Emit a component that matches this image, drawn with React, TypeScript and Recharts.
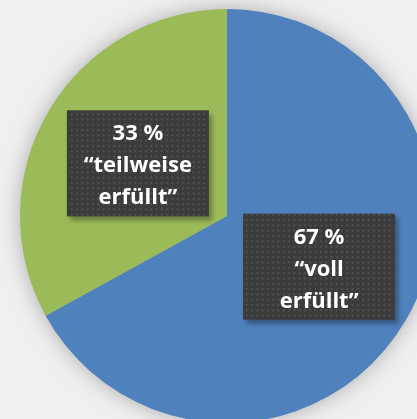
import React from 'react';
import { PieChart, Pie, Cell } from 'recharts';

// values
const categories = ['voll erfüllt', 'teilweise erfüllt'];
const values = [67, 33];
const colors = ['#4f81bd', '#9bbb59'];

const chartData = categories.map((name, i) => ({ name, value: values[i] }));

const RADIAN = Math.PI / 180;
const BOX_W = [152, 142];
const BOX_H = 106;
// small nudges so the boxes sit where they do in the slide
const BOX_DX = [3, 0];
const BOX_DY = [-2, 0];

const BoxLabel = (props: any) => {
  const { cx, cy, midAngle, outerRadius, index, value, name } = props;
  const r = outerRadius * 0.5;
  const x = cx + r * Math.cos(-midAngle * RADIAN) + (BOX_DX[index] ?? 0);
  const y = cy + r * Math.sin(-midAngle * RADIAN) + (BOX_DY[index] ?? 0);
  const w = BOX_W[index] ?? 146;
  const words = String(name).split(' ');
  const lines = [`${value} %`, `\u201c${words[0]}`, `${words.slice(1).join(' ')}\u201d`];
  return (
    <g>
      <rect x={x - w / 2 + 3} y={y - BOX_H / 2 + 4} width={w} height={BOX_H} fill="rgba(0,0,0,0.35)" filter="url(#boxBlur)" />
      <rect x={x - w / 2} y={y - BOX_H / 2} width={w} height={BOX_H} fill="#3b3b3b" />
      <rect x={x - w / 2} y={y - BOX_H / 2} width={w} height={BOX_H} fill="url(#dots)" />
      {lines.map((t, i) => (
        <text
          key={i}
          x={x}
          y={y + (i - 1) * 32}
          textAnchor="middle"
          dominantBaseline="central"
          fill="#ffffff"
          fontFamily="'Open Sans', sans-serif"
          fontWeight="bold"
          fontSize={22}
        >
          {t}
        </text>
      ))}
    </g>
  );
};

const App: React.FC = () => {
  return (
    <div style={{ position: 'fixed', left: 0, top: 0, width: 417, height: 419, background: '#efefef', overflow: 'hidden' }}>
      <div style={{ filter: 'drop-shadow(0 0 10px rgba(0,0,0,0.28))' }}>
        <PieChart width={417} height={419} margin={{ top: 0, right: 0, bottom: 0, left: 0 }}>
          <defs>
            <pattern id="dots" x="0" y="0" width="5.3" height="5.3" patternUnits="userSpaceOnUse">
              <rect x="2" y="2" width="1.7" height="1.7" fill="#565656" />
            </pattern>
            <filter id="boxBlur" x="-20%" y="-20%" width="140%" height="140%">
              <feGaussianBlur stdDeviation="2.5" />
            </filter>
          </defs>
          <Pie
            data={chartData}
            dataKey="value"
            nameKey="name"
            cx={227}
            cy={216}
            outerRadius={207}
            startAngle={90}
            endAngle={-270}
            stroke="none"
            labelLine={false}
            label={BoxLabel}
            isAnimationActive={false}
          >
            {chartData.map((d, i) => (
              <Cell key={d.name} fill={colors[i]} />
            ))}
          </Pie>
        </PieChart>
      </div>
    </div>
  );
};

export default App;
